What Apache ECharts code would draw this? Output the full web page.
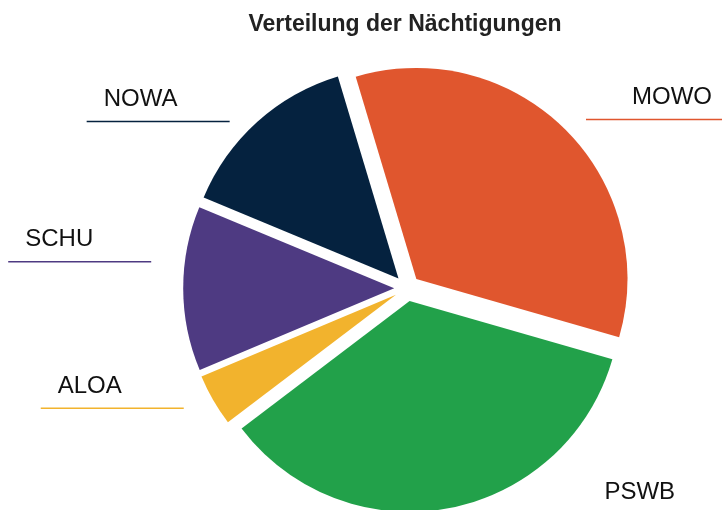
<!DOCTYPE html>
<html lang="de" style="height: 100%">

<head>
  <meta charset="UTF-8">
  <title>Verteilung der Nächtigungen</title>
  <script src="https://cdn.jsdelivr.net/npm/echarts@6/dist/echarts.min.js"></script>
</head>

<body style="height: 100%; margin: 0; background: #fff">
  <div id="container" style="width: 722px; height: 510px"></div>

  <script>
    // Daten (Anteile in %, im Uhrzeigersinn ab oben)
    var regions = ['MOWO', 'PSWB', 'ALOA', 'SCHU', 'NOWA'];
    var shares = [34.1, 35.2, 4.0, 12.6, 14.1];
    var colors = ['#e0562e', '#22a14a', '#f2b32d', '#4e3a82', '#05223f'];

    // Verschiebung der Beschriftungslinien gegenüber der Standardlage
    var labelNudge = [[3, 9], [96, -20], [-7, -5], [-6, -27], [-10, 19]];
    var LINE_LEN = 143;

    var chart = echarts.init(document.getElementById('container'));

    var data = regions.map(function (name, i) {
      return {
        name: name,
        value: shares[i],
        selected: true,
        itemStyle: { color: colors[i] },
        labelLine: { lineStyle: { color: colors[i] } }
      };
    });

    option = {
      animation: false,
      title: {
        text: 'Verteilung der Nächtigungen',
        left: '55.4%',
        top: 8,
        textAlign: 'center',
        textStyle: {
          fontFamily: 'Liberation Sans',
          fontSize: 23,
          fontWeight: 'bold',
          color: '#222'
        }
      },
      series: [
        {
          type: 'pie',
          center: ['56.4%', '56.5%'],
          radius: 211,
          startAngle: 106.7,
          clockwise: true,
          selectedMode: 'multiple',
          selectedOffset: 13,
          avoidLabelOverlap: false,
          emphasis: { disabled: true },
          data: data,
          label: {
            show: true,
            position: 'outside',
            fontFamily: 'Liberation Sans',
            fontSize: 24,
            color: '#111'
          },
          labelLine: {
            show: true,
            length: 26,
            length2: LINE_LEN,
            lineStyle: { width: 1.5 }
          },
          labelLayout: function (params) {
            var p = params.labelLinePoints;
            if (!p) return {};
            var n = labelNudge[params.dataIndex];
            var left = p[2][0] < p[1][0];
            var inner = [p[1][0] + n[0], p[1][1] + n[1]];
            var outer = [inner[0] + (left ? -LINE_LEN : LINE_LEN), inner[1]];
            var r = params.labelRect;
            var dx = left ? (outer[0] + 17) - r.x : (outer[0] - 17) - (r.x + r.width);
            var dy = (inner[1] - 10) - (r.y + r.height);
            return {
              dx: dx,
              dy: dy,
              labelLinePoints: [inner, inner, outer]
            };
          }
        }
      ]
    };
    chart.setOption(option);
  </script>
</body>

</html>
